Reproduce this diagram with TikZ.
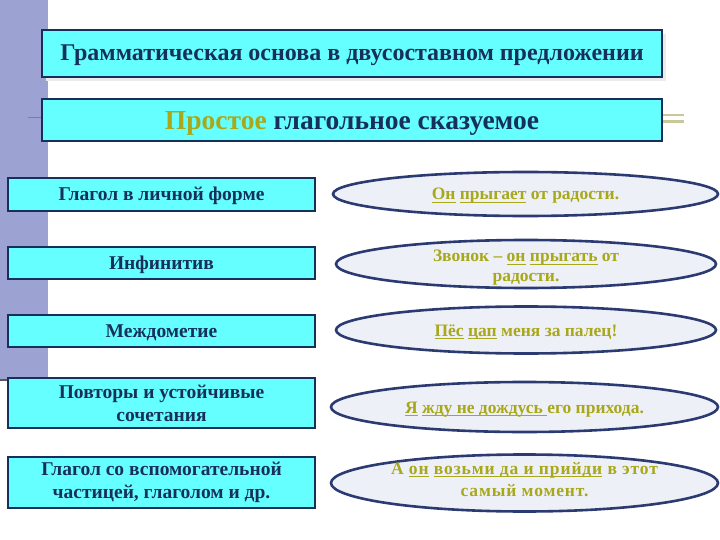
\documentclass[tikz,border=0pt]{standalone}
\usepackage{fontspec}
\setmainfont{Liberation Serif}
\usetikzlibrary{shapes.geometric}
\definecolor{navy}{HTML}{17305A}
\definecolor{boxfill}{HTML}{66FFFF}
\definecolor{ellfill}{HTML}{EEF0F8}
\definecolor{ellborder}{HTML}{2C3A72}
\definecolor{olive}{HTML}{A8A81A}
\definecolor{barcol}{HTML}{9CA2D2}
\definecolor{tan}{HTML}{C8C89A}
\newcommand\myul[1]{{\setbox0\hbox{#1}\makebox[0pt][l]{\raisebox{-3pt}[0pt][0pt]{\rule{\wd0}{1.1pt}}}\box0}}
\tikzset{
  titlebox/.style={draw=navy, line width=2.6pt, fill=boxfill, text=navy, font=\bfseries, inner sep=0pt, align=center},
  leftbox/.style={titlebox, minimum width=307pt, font=\bfseries\fontsize{19.5}{23}\selectfont},
  ellbox/.style={ellipse, draw=ellborder, line width=2.6pt, fill=ellfill, text=olive, inner sep=0pt, align=center, font=\bfseries\fontsize{17.5}{20}\selectfont}
}
\begin{document}
\begin{tikzpicture}[x=1pt,y=-1pt]
\useasboundingbox (0,0) rectangle (720,540);
\fill[barcol] (0,0) rectangle (48,380);
\draw[gray!70!black, line width=1.2pt] (0,380) -- (14,380);
\draw[gray, line width=1pt] (28,118) -- (42,118);
\draw[tan, line width=2.5pt] (662,115) -- (684,115);
\draw[tan, line width=2.5pt] (662,121.5) -- (684,121.5);
% shadows
\fill[black!8] (46,34) rectangle (666,81);
\node[titlebox, minimum width=620pt, minimum height=47pt, text height=19pt, text depth=4.5pt, font=\bfseries\fontsize{24}{26}\selectfont] (t1) at (352,53.5) {Грамматическая основа в двусоставном предложении};
\node[titlebox, minimum width=620pt, minimum height=42pt, text height=24pt, text depth=5.4pt, font=\bfseries\fontsize{27.5}{30}\selectfont] (t2) at (352,120) {\textcolor{olive}{Простое} глагольное сказуемое};
\node[leftbox, minimum height=33pt, text height=17pt, text depth=4pt] (l1) at (161.5,194.5) {Глагол в личной форме};
\node[leftbox, minimum height=32pt, text height=17pt, text depth=4pt] (l2) at (161.5,263) {Инфинитив};
\node[leftbox, minimum height=32pt, text height=17pt, text depth=4pt] (l3) at (161.5,331) {Междометие};
\node[leftbox, minimum height=50pt] (l4) at (161.5,403) {Повторы и устойчивые\\сочетания};
\node[leftbox, minimum height=51pt] (l5) at (161.5,482.5) {Глагол со вспомогательной\\частицей, глаголом и др.};
\node[ellbox, minimum width=385pt, minimum height=44pt, text height=16pt, text depth=4pt] (e1) at (525.5,194) {\myul{Он} \myul{прыгает} от радости.};
\node[ellbox, minimum width=380pt, minimum height=48pt, inner ysep=-6pt] (e2) at (526,264) {\rule{0pt}{19pt}Звонок – \myul{он} \myul{прыгать} от\\радости.};
\node[ellbox, minimum width=380pt, minimum height=47pt, text height=16pt, text depth=4pt] (e3) at (526,330) {\myul{Пёс} \myul{цап} меня за палец!};
\node[ellbox, minimum width=387pt, minimum height=50pt, text height=16pt, text depth=4pt] (e4) at (524.5,407) {\myul{Я} \myul{жду не дождусь }его прихода.};
\node[ellbox, minimum width=387pt, minimum height=57pt, inner ysep=-4pt, font=\bfseries\fontsize{17.5}{22}\selectfont\addfontfeature{LetterSpace=5}] (e5) at (524.5,483) {А \myul{он} \myul{возьми да и прийди} в этот\\самый момент.\rule[-8pt]{0pt}{8pt}};
\end{tikzpicture}
\end{document}
